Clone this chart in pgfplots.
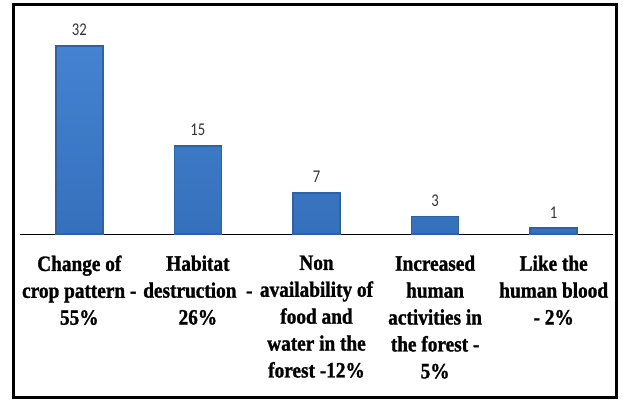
\documentclass[border=0pt]{standalone}
\usepackage{pgfplots}
\pgfplotsset{compat=1.18}
\usepackage{fontspec}
\newfontfamily\labfont[FakeStretch=0.88,FakeBold=1.2]{Liberation Serif}
\newfontfamily\valfont[FakeStretch=0.82]{Carlito}
\definecolor{bartop}{HTML}{4483D0}
\definecolor{barbot}{HTML}{3570BC}
\definecolor{baredge}{HTML}{2E62A6}
\definecolor{baseline}{HTML}{A6A6A6}
\begin{document}
\begin{tikzpicture}[x=1bp,y=1bp]
\path[use as bounding box] (0,0) rectangle (623,400);
\draw[line width=3bp] (13,3) rectangle (616,395);
\begin{axis}[
  at={(20bp,166bp)}, anchor=south west,
  scale only axis,
  width=593bp, height=219bp,
  xmin=-0.5, xmax=4.5,
  ymin=0, ymax=37.28,
  axis x line*=bottom,
  axis y line=none,
  x axis line style={baseline, line width=1bp},
  ytick=\empty,
  xtick={0,1,2,3,4},
  xticklabels={
    {Change of\\crop pattern -\\55\%},
    {Habitat\\destruction\ \ -\\26\%},
    {Non\\availability of\\food and\\water in the\\forest -12\%},
    {Increased\\human\\activities in\\the forest -\\5\%},
    {Like the\\human blood\\- 2\%}},
  major tick length=0pt,
  xticklabel style={font=\labfont\bfseries\fontsize{22}{27}\selectfont, align=center, anchor=north, yshift=-18bp},
  /pgf/number format/assume math mode=true,
  clip=false,
]
\addplot[ybar, bar width=47bp, draw=baredge, line width=1.6bp,
  top color=bartop, bottom color=barbot,
  nodes near coords,
  every node near coord/.append style={font=\valfont\fontsize{18}{20}\selectfont, text=black!80, yshift=6bp}]
  coordinates {(0,32) (1,15) (2,7) (3,3) (4,1)};
\end{axis}
\end{tikzpicture}
\end{document}
